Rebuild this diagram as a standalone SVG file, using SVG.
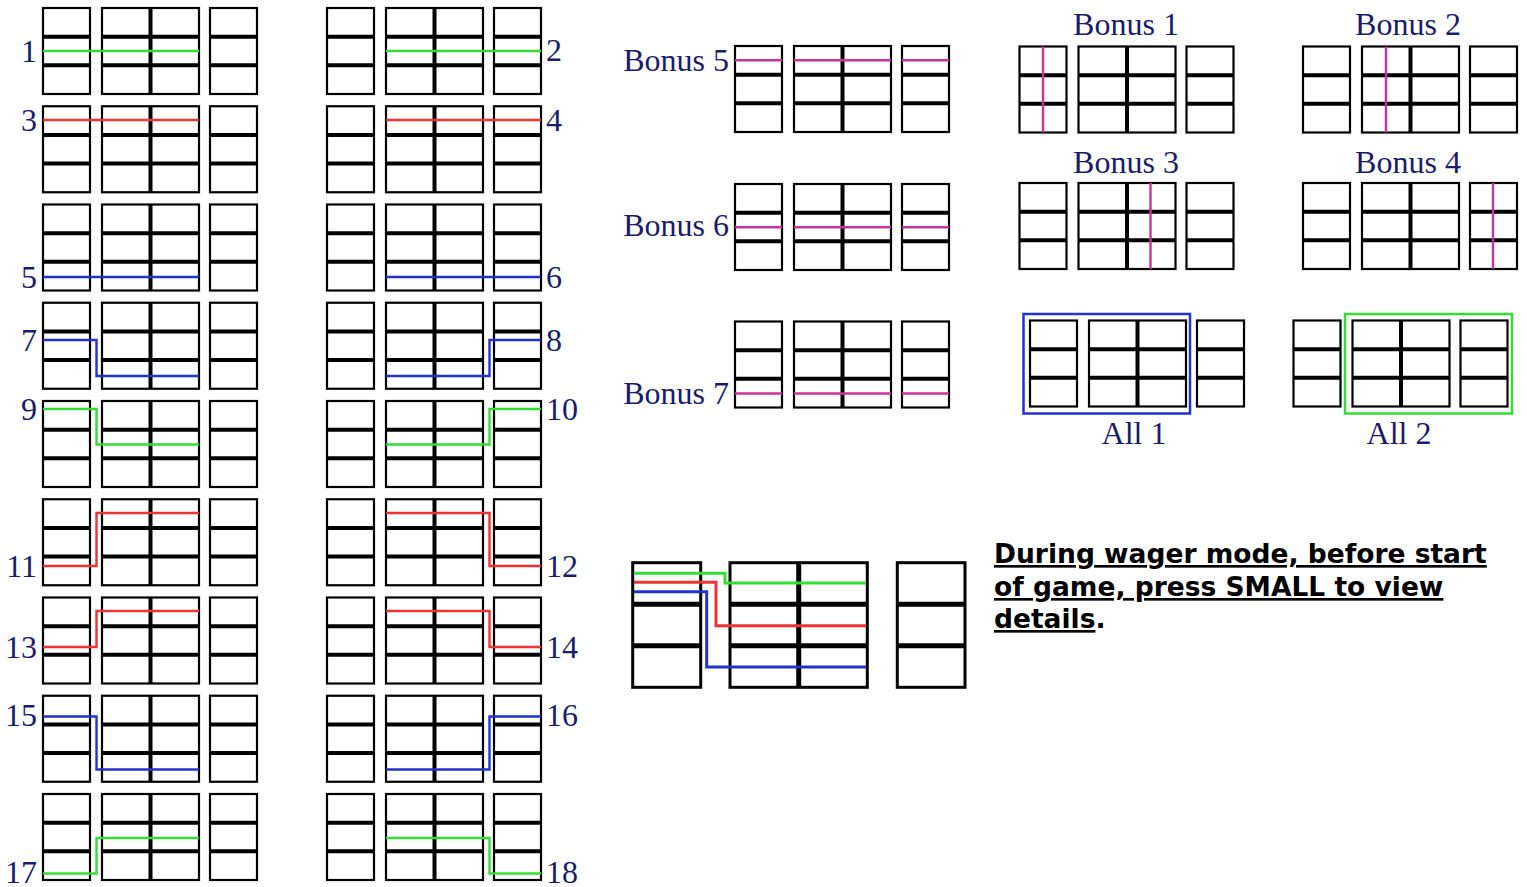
<svg xmlns="http://www.w3.org/2000/svg" xmlns:xlink="http://www.w3.org/1999/xlink" width="1527" height="887" viewBox="0 0 1527 887">
<style>
.cell{fill:#fff;stroke:#000;stroke-width:2.2}
.div{fill:none;stroke:#000;stroke-width:4}
.lbl{font-family:"Liberation Serif","Times New Roman",serif;font-size:32px;fill:#1b1b6b}
.pl{fill:none;stroke-width:2.4}
.g{stroke:#33dd33}.r{stroke:#ee3333}.b{stroke:#2233cc}.m{stroke:#cc3399}
.note{font-family:"DejaVu Sans",Verdana,sans-serif;font-weight:bold;font-size:26.5px;fill:#000}
.bcell{fill:#fff;stroke:#000;stroke-width:3}
.bdiv{fill:none;stroke:#000;stroke-width:5}
.bpl{fill:none;stroke-width:3}
</style>
<defs>
<g id="reel">
<rect class="cell" x="0" y="0" width="47" height="86"/>
<rect class="cell" x="59" y="0" width="97" height="86"/>
<rect class="cell" x="167" y="0" width="47" height="86"/>
<path class="div" d="M0 28.7H47M0 57.3H47M59 28.7H156M59 57.3H156M167 28.7H214M167 57.3H214M107.5 0V86"/>
</g>
</defs>
<rect width="1527" height="887" fill="#fff"/>

<!-- left column -->
<g id="line1"><use xlink:href="#reel" x="43" y="8"/><text class="lbl" x="37" y="62" text-anchor="end">1</text></g>
<g id="line3"><use xlink:href="#reel" x="43" y="106.25"/><text class="lbl" x="37" y="131" text-anchor="end">3</text></g>
<g id="line5"><use xlink:href="#reel" x="43" y="204.5"/><text class="lbl" x="37" y="288" text-anchor="end">5</text></g>
<g id="line7"><use xlink:href="#reel" x="43" y="302.75"/><text class="lbl" x="37" y="351" text-anchor="end">7</text></g>
<g id="line9"><use xlink:href="#reel" x="43" y="401"/><text class="lbl" x="37" y="420" text-anchor="end">9</text></g>
<g id="line11"><use xlink:href="#reel" x="43" y="499.25"/><text class="lbl" x="37" y="577" text-anchor="end">11</text></g>
<g id="line13"><use xlink:href="#reel" x="43" y="597.5"/><text class="lbl" x="37" y="658" text-anchor="end">13</text></g>
<g id="line15"><use xlink:href="#reel" x="43" y="695.75"/><text class="lbl" x="37" y="726" text-anchor="end">15</text></g>
<g id="line17"><use xlink:href="#reel" x="43" y="794"/><text class="lbl" x="37" y="883" text-anchor="end">17</text></g>

<!-- right column -->
<g id="line2"><use xlink:href="#reel" x="327" y="8"/><text class="lbl" x="546" y="61">2</text></g>
<g id="line4"><use xlink:href="#reel" x="327" y="106.25"/><text class="lbl" x="546" y="131">4</text></g>
<g id="line6"><use xlink:href="#reel" x="327" y="204.5"/><text class="lbl" x="546" y="288">6</text></g>
<g id="line8"><use xlink:href="#reel" x="327" y="302.75"/><text class="lbl" x="546" y="351">8</text></g>
<g id="line10"><use xlink:href="#reel" x="327" y="401"/><text class="lbl" x="546" y="420">10</text></g>
<g id="line12"><use xlink:href="#reel" x="327" y="499.25"/><text class="lbl" x="546" y="577">12</text></g>
<g id="line14"><use xlink:href="#reel" x="327" y="597.5"/><text class="lbl" x="546" y="658">14</text></g>
<g id="line16"><use xlink:href="#reel" x="327" y="695.75"/><text class="lbl" x="546" y="726">16</text></g>
<g id="line18"><use xlink:href="#reel" x="327" y="794"/><text class="lbl" x="546" y="883">18</text></g>

<!-- bonus -->
<g id="bonus5"><use xlink:href="#reel" x="735" y="46"/><text class="lbl" x="729" y="71" text-anchor="end">Bonus 5</text></g>
<g id="bonus6"><use xlink:href="#reel" x="735" y="184"/><text class="lbl" x="729" y="236" text-anchor="end">Bonus 6</text></g>
<g id="bonus7"><use xlink:href="#reel" x="735" y="321.5"/><text class="lbl" x="729" y="404" text-anchor="end">Bonus 7</text></g>
<g id="bonus1"><use xlink:href="#reel" x="1019.5" y="46.5"/><text class="lbl" x="1126" y="35" text-anchor="middle">Bonus 1</text></g>
<g id="bonus2"><use xlink:href="#reel" x="1303" y="46.5"/><text class="lbl" x="1408" y="35" text-anchor="middle">Bonus 2</text></g>
<g id="bonus3"><use xlink:href="#reel" x="1019.5" y="183"/><text class="lbl" x="1126" y="173" text-anchor="middle">Bonus 3</text></g>
<g id="bonus4"><use xlink:href="#reel" x="1303" y="183"/><text class="lbl" x="1408" y="173" text-anchor="middle">Bonus 4</text></g>
<g id="all1"><use xlink:href="#reel" x="1030" y="320.5"/><rect x="1023.5" y="314" width="166.5" height="99.5" fill="none" stroke="#2233cc" stroke-width="2.5"/><text class="lbl" x="1134" y="444" text-anchor="middle">All 1</text></g>
<g id="all2"><use xlink:href="#reel" x="1293.5" y="320.5"/><rect x="1345" y="314" width="167" height="99.5" fill="none" stroke="#33dd33" stroke-width="2.5"/><text class="lbl" x="1399" y="444" text-anchor="middle">All 2</text></g>

<!-- example -->
<g id="example">
<rect class="bcell" x="632.7" y="562.7" width="68" height="124.6"/>
<rect class="bcell" x="730" y="562.7" width="137.3" height="124.6"/>
<rect class="bcell" x="897.3" y="562.7" width="67.7" height="124.6"/>
<path class="bdiv" d="M632.7 604.2H700.7M632.7 645.8H700.7M730 604.2H867.3M730 645.8H867.3M897.3 604.2H965M897.3 645.8H965M798.7 562.7V687.3"/>
</g>

<g id="connectors">
<path class="pl g" d="M43 51H199M386 51H541"/>
<path class="pl r" d="M43 120H199M386 120H541"/>
<path class="pl b" d="M43 277H199M386 277H541"/>
<path class="pl b" d="M43 340H96.5V376H199M386 376H489.5V340H541"/>
<path class="pl g" d="M43 409H96.5V444.5H199M386 444.5H489.5V409H541"/>
<path class="pl r" d="M43 566H96.5V513H199M386 513H489.5V566H541"/>
<path class="pl r" d="M43 647H96.5V611H199M386 611H489.5V647H541"/>
<path class="pl b" d="M43 716.5H96.5V769.5H199M386 769.5H489.5V716.5H541"/>
<path class="pl g" d="M43 873.5H96.5V838H199M386 838H489.5V873.5H541"/>
<path class="pl m" d="M735 60.3H782M794 60.3H891M902 60.3H949"/>
<path class="pl m" d="M735 227.3H782M794 227.3H891M902 227.3H949"/>
<path class="pl m" d="M735 393.5H782M794 393.5H891M902 393.5H949"/>
<path class="pl m" d="M1043 46.5V132.5M1386 46.5V132.5M1150.5 183V269M1493 183V269"/>
<path class="bpl g" d="M634 573.3H725V583H866"/>
<path class="bpl r" d="M634 582.3H716V625.7H866"/>
<path class="bpl b" d="M634 591.7H706.7V667H866"/>
</g>

<g id="note">
<text class="note" x="994" y="563" text-decoration="underline">During wager mode, before start</text>
<text class="note" x="994" y="596" text-decoration="underline">of game, press SMALL to view</text>
<text class="note" x="994" y="628"><tspan text-decoration="underline">details</tspan>.</text>
</g>
</svg>
